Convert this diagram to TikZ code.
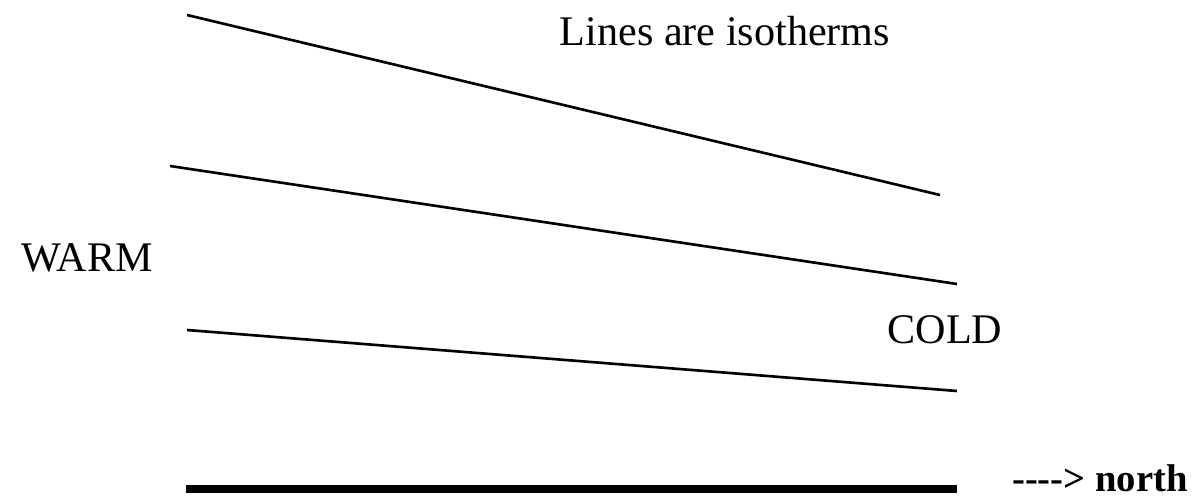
\documentclass[tikz,border=0pt]{standalone}
\usepackage{fontspec}
\setmainfont{Liberation Serif}

\begin{document}
\begin{tikzpicture}[x=0.02cm, y=-0.02cm,
          isotherm/.style={line width=1.5pt},
          ground/.style={line width=4.6pt},
          label/.style={font=\fontsize{24}{28}\selectfont, inner sep=0pt},
        ]
          \useasboundingbox (0,0) rectangle (1204,497);
          \coordinate (a1) at (187, 15);
          \coordinate (a2) at (940,195);
          \coordinate (b1) at (170,166);
          \coordinate (b2) at (957,284);
          \coordinate (c1) at (187,330);
          \coordinate (c2) at (957,391);
          \coordinate (g1) at (186,489);
          \coordinate (g2) at (957,489);
          \draw[isotherm] (a1) -- (a2);
          \draw[isotherm] (b1) -- (b2);
          \draw[isotherm] (c1) -- (c2);
          \draw[ground] (g1) -- (g2);
          \node[label] (title) at (725,31) {Lines are isotherms};
          \node[label] (warm)  at (87,258) {WARM};
          \node[label] (cold)  at (945,330) {COLD};
          \node[label, font=\fontsize{22}{26}\selectfont\bfseries, anchor=base]
            (north) at (1100,491) {{-}{-}{-}{-}> north};
        \end{tikzpicture}
\end{document}
